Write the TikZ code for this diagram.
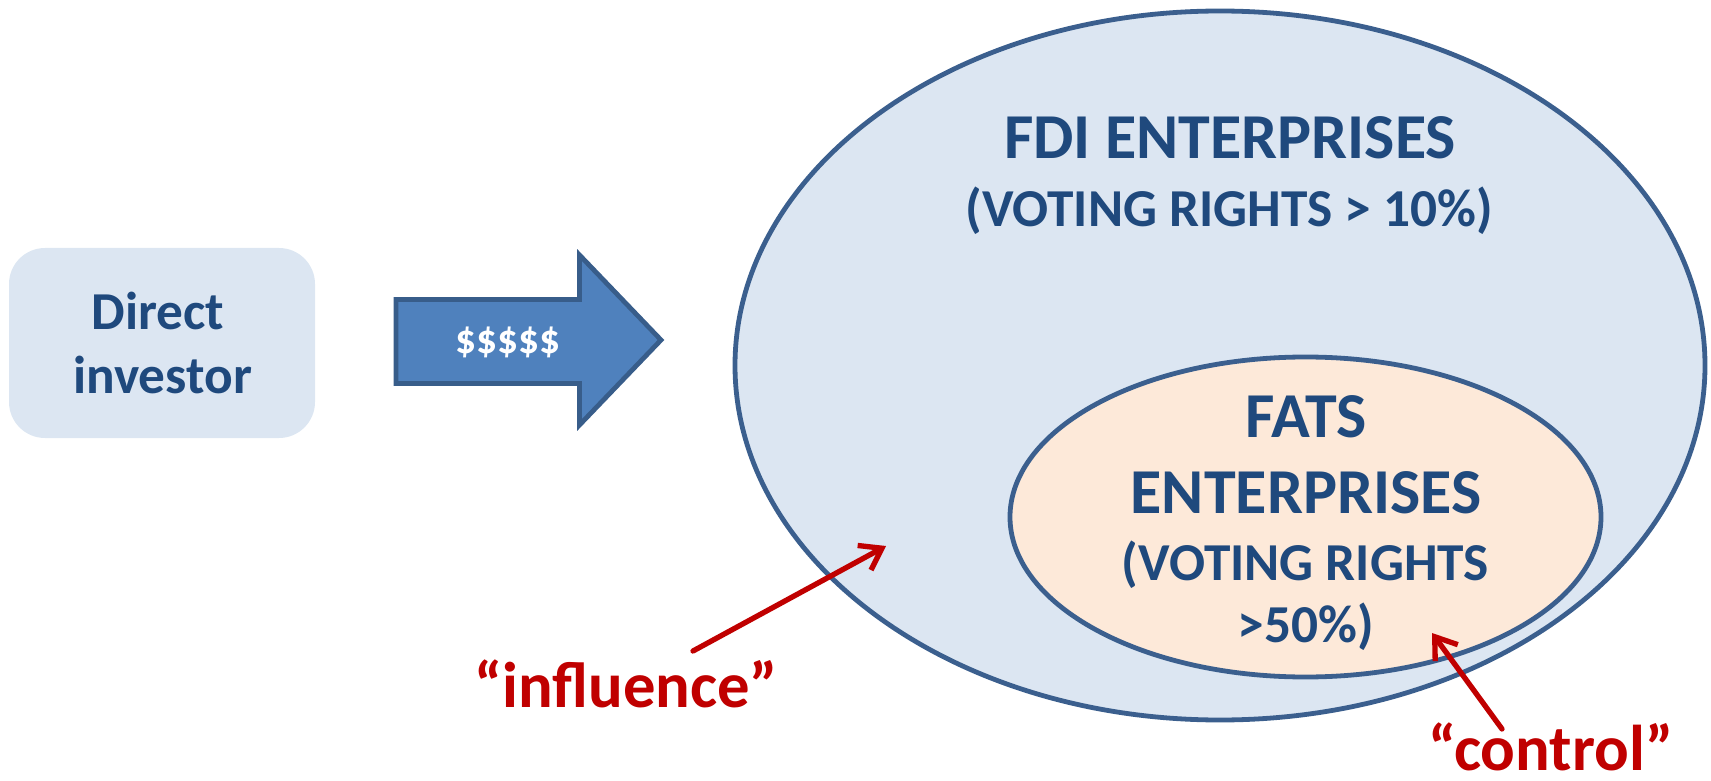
\documentclass[tikz,border=0pt]{standalone}
\usepackage{fontspec}
\setmainfont{Carlito}
\usetikzlibrary{shapes.geometric,arrows.meta}
\definecolor{lightblue}{HTML}{DCE6F2}
\definecolor{darkblue}{HTML}{1F497D}
\definecolor{edgeblue}{HTML}{3B5F8E}
\definecolor{arrowblue}{HTML}{4F81BD}
\definecolor{arrowedge}{HTML}{385D8A}
\definecolor{peach}{HTML}{FDE9D9}
\definecolor{redc}{HTML}{C00000}
\tikzset{
  txt/.style={text=darkblue, inner sep=0pt, anchor=base},
  bigtxt/.style={txt, font=\fontsize{48}{58}\selectfont\bfseries},
  smalltxt/.style={txt, font=\fontsize{40}{48}\selectfont\bfseries},
  redlbl/.style={font=\fontsize{48.5}{58}\selectfont\bfseries, text=redc, inner sep=0pt, anchor=base},
  redarrow/.style={draw=redc, line width=4pt, line cap=round, -{Straight Barb[length=15pt,width=21pt,line width=4pt]}},
  ell/.style={ellipse, draw=edgeblue, line width=3.6pt, inner sep=0pt}
}
\begin{document}
\begin{tikzpicture}[x=0.75pt,y=-0.75pt]
\useasboundingbox (0,0) rectangle (1711,781);
% direct investor box
\node[fill=lightblue, rounded corners=27pt, minimum width=306*0.75pt, minimum height=190*0.75pt, inner sep=0pt] (inv) at (162,343) {};
\node[txt, font=\fontsize{40}{48}\selectfont\bfseries] (inv1) at (158,329) {Direct};
\node[txt, font=\fontsize{40}{48}\selectfont\bfseries] (inv2) at (162.5,393) {investor};
% block arrow
\draw[fill=arrowblue, draw=arrowedge, line width=3.6pt, line join=miter]
  (396,299.5) -- (579.5,299.5) -- (579.5,255) -- (661,340) -- (579.5,425) -- (579.5,383.5) -- (396,383.5) -- cycle;
\node[text=white, font=\fontsize{31}{36}\selectfont\bfseries, inner sep=0pt] (money) at (508,342) {\$\$\$\$\$};
% big ellipse
\node[ell, fill=lightblue, minimum width=970*0.75pt, minimum height=709*0.75pt] (fdi) at (1220,365.5) {};
\node[bigtxt] (fdi1) at (1230,159) {FDI ENTERPRISES};
\node[smalltxt] (fdi2) at (1229,227) {(VOTING RIGHTS > 10\%)};
% inner ellipse
\node[ell, fill=peach, minimum width=591*0.75pt, minimum height=320*0.75pt] (fats) at (1305.5,517) {};
\node[bigtxt] (fats1) at (1306,437) {FATS};
\node[bigtxt] (fats2) at (1306,513) {ENTERPRISES};
\node[smalltxt] (fats3) at (1305.5,580) {(VOTING RIGHTS};
\node[smalltxt] (fats4) at (1306,642) {>50\%)};
% red labels and arrows
\node[redlbl] (infl) at (626,707) {“influence”};
\node[redlbl] (ctrl) at (1551,770) {“control”};
\coordinate (inflS) at (693,651);
\coordinate (inflE) at (886,546);
\coordinate (ctrlS) at (1502,729);
\coordinate (ctrlE) at (1432,633);
\draw[redarrow] (inflS) -- (inflE);
\draw[redarrow] (ctrlS) -- (ctrlE);
\end{tikzpicture}
\end{document}
